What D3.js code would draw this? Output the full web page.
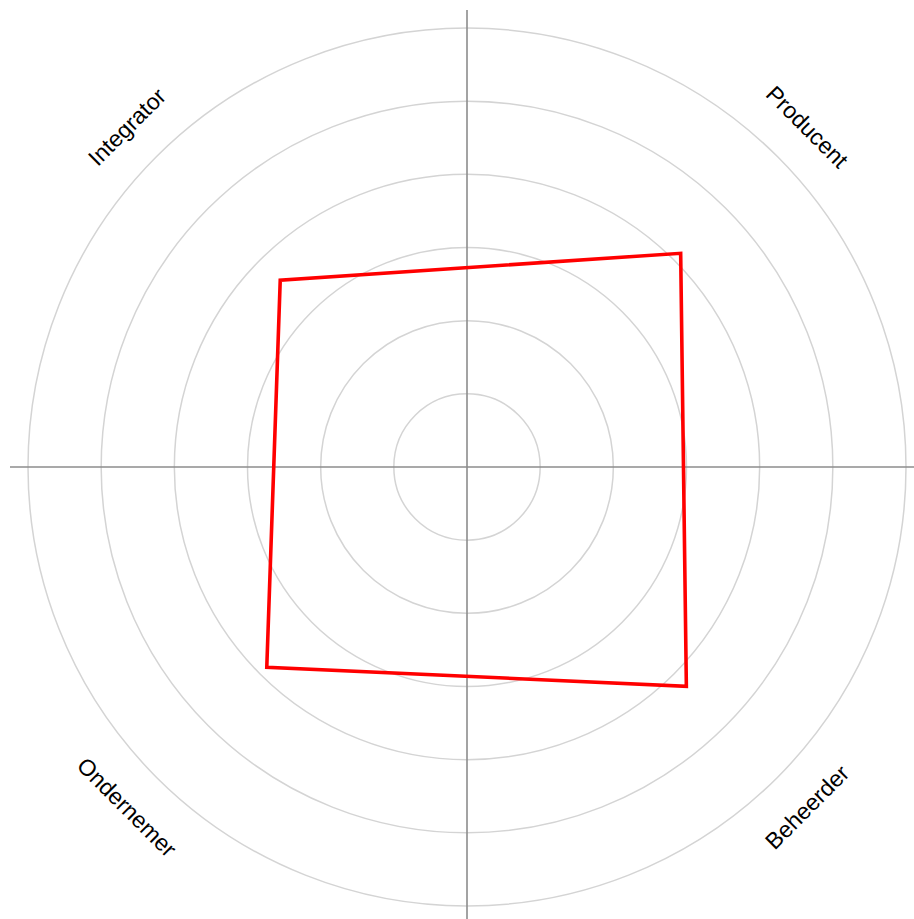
<!DOCTYPE html>
<html>
<head>
<meta charset="utf-8">
<script src="https://cdn.jsdelivr.net/npm/d3@7"></script>
<style>
  body { margin: 0; background: #fff; }
  .ring { fill: none; stroke: #d4d4d4; stroke-width: 1.5; }
  .axis { stroke: #8c8c8c; stroke-width: 1.6; }
  .label { font-family: "Liberation Sans", Arial, sans-serif; font-size: 23px; fill: #000; }
</style>
</head>
<body>
<script>
var categories = ['Producent', 'Beheerder', 'Ondernemer', 'Integrator'];
var values = [4.13, 4.24, 3.87, 3.61];
var ringLevels = [1, 2, 3, 4, 5, 6];

var width = 914;
var height = 919;
var cx = 467;
var cy = 467;
var radius = 439;

var r = d3.scaleLinear().domain([0, 6]).range([0, radius]);
var angle = d3.scaleBand().domain(categories).range([0, 2 * Math.PI]).align(0);

var svg = d3.select('body')
  .append('svg')
  .attr('width', width)
  .attr('height', height);

var g = svg.append('g')
  .attr('transform', 'translate(' + cx + ',' + cy + ')');

g.selectAll('circle.ring')
  .data(ringLevels)
  .enter()
  .append('circle')
  .attr('class', 'ring')
  .attr('r', function(d) { return r(d); });

// cross axes
var axisLen = 457;
g.append('line').attr('class', 'axis')
  .attr('x1', -axisLen).attr('x2', axisLen).attr('y1', 0).attr('y2', 0);
g.append('line').attr('class', 'axis')
  .attr('x1', 0).attr('x2', 0).attr('y1', -axisLen).attr('y2', axisLen + 3);

// categories sit on the diagonals
function ang(d) {
  return angle(d) + Math.PI / 4;
}

var line = d3.lineRadial()
  .angle(function(d, i) { return ang(categories[i]); })
  .radius(function(d) { return r(d); })
  .curve(d3.curveLinearClosed);

g.append('path')
  .datum(values)
  .attr('d', line)
  .attr('fill', 'none')
  .attr('stroke', '#ff0000')
  .attr('stroke-width', 3.6)
  .attr('stroke-linejoin', 'miter');

var labelR = 481;
g.selectAll('text.label')
  .data(categories)
  .enter()
  .append('text')
  .attr('class', 'label')
  .attr('text-anchor', 'middle')
  .attr('dominant-baseline', 'central')
  .attr('transform', function(d) {
    var a = ang(d);
    var x = labelR * Math.sin(a);
    var y = -labelR * Math.cos(a);
    var deg = a * 180 / Math.PI;
    if (deg > 90 && deg < 270) deg -= 180;
    else if (deg >= 270) deg -= 360;
    return 'translate(' + x + ',' + y + ') rotate(' + deg + ')';
  })
  .text(function(d) { return d; });
</script>
</body>
</html>
